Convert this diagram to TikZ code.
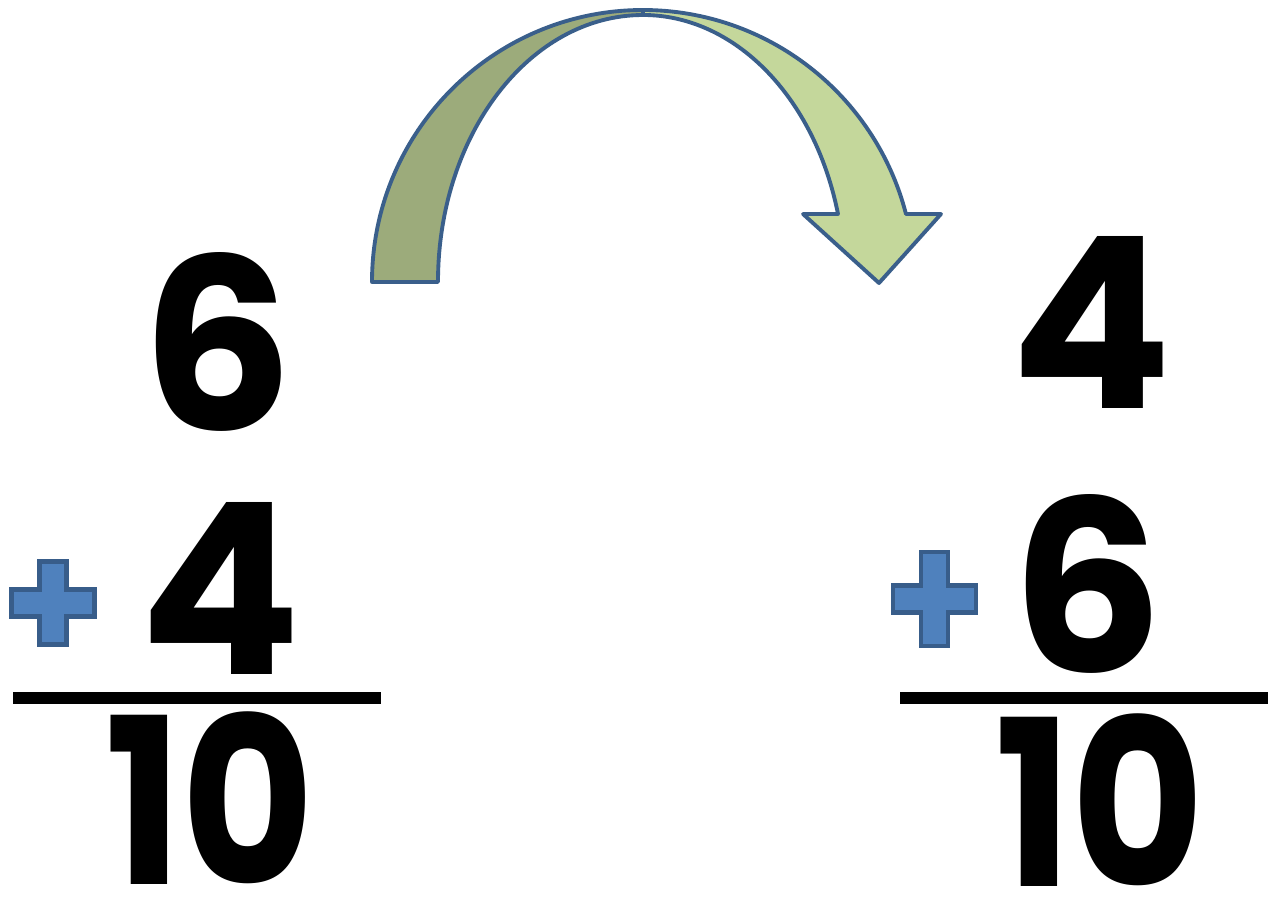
\documentclass[tikz,border=0pt]{standalone}
\usepackage{fontspec}
\usepackage{xcolor}
\usepackage{tikz}
\usetikzlibrary{positioning}

\newfontfamily\digitfont{Poppins}
\newfontfamily\tenfont{Poppins}[FakeStretch=0.88]

\definecolor{arrowedge}{HTML}{3A5F8B}
\definecolor{backgreen}{HTML}{9CAB7B}
\definecolor{frontgreen}{HTML}{C4D79B}
\definecolor{plusblue}{HTML}{4F81BD}
\definecolor{plusedge}{HTML}{385D8A}

\begin{document}
\begin{tikzpicture}[
    x=0.02cm, y=0.02cm,
    digit/.style = {
        font=\digitfont\bfseries\fontsize{136}{136}\selectfont,
        inner sep=0pt
    },
    total/.style = {
        font=\tenfont\bfseries\fontsize{132}{132}\selectfont,
        inner sep=0pt
    },
    plus sign/.style = {
        fill=plusblue,
        draw=plusedge,
        line width=2.8pt
    },
    sum rule/.style = {line width=6.8pt, black},
    swap arrow/.style = {draw=arrowedge, line width=2.2pt, line join=round}
]
\useasboundingbox (0,0) rectangle (1268,-900);

% the curved arrow, back half then front half
\filldraw[swap arrow, fill=backgreen] (372,-282)
    arc[start angle=180, end angle=90, x radius=271, y radius=272]
    -- (643,-15)
    arc[start angle=90, end angle=180, x radius=205, y radius=267]
    -- cycle;
\filldraw[swap arrow, fill=frontgreen] (643,-10)
    arc[start angle=90, end angle=14.48, x radius=271.6, y radius=272]
    -- (941,-214) -- (879,-283) -- (803,-214) -- (838,-214)
    arc[start angle=14.75, end angle=90, x radius=201.7, y radius=267]
    -- cycle;

% left sum
\node[digit] (six1) at (218,-342) {6};
\node[digit] (four1) at (220,-588) {4};
\node[total] (ten1) at (210,-798) {10};

% right sum
\node[digit] (four2) at (1091,-322) {4};
\node[digit] (six2) at (1088,-584) {6};
\node[total] (ten2) at (1100,-800) {10};

% plus signs
\foreach \cx/\cy/\hy in {53/603/41.5, 934.5/599/47}
    \draw[plus sign, shift={(\cx,-\cy)}]
        (-13.5,\hy) -- (13.5,\hy) -- (13.5,13.5) -- (41.5,13.5)
        -- (41.5,-13.5) -- (13.5,-13.5) -- (13.5,-\hy) -- (-13.5,-\hy)
        -- (-13.5,-13.5) -- (-41.5,-13.5) -- (-41.5,13.5) -- (-13.5,13.5)
        -- cycle;

% rules
\draw[sum rule] (13,-698) -- (381,-698);
\draw[sum rule] (900,-698) -- (1268,-698);

\end{tikzpicture}
\end{document}
